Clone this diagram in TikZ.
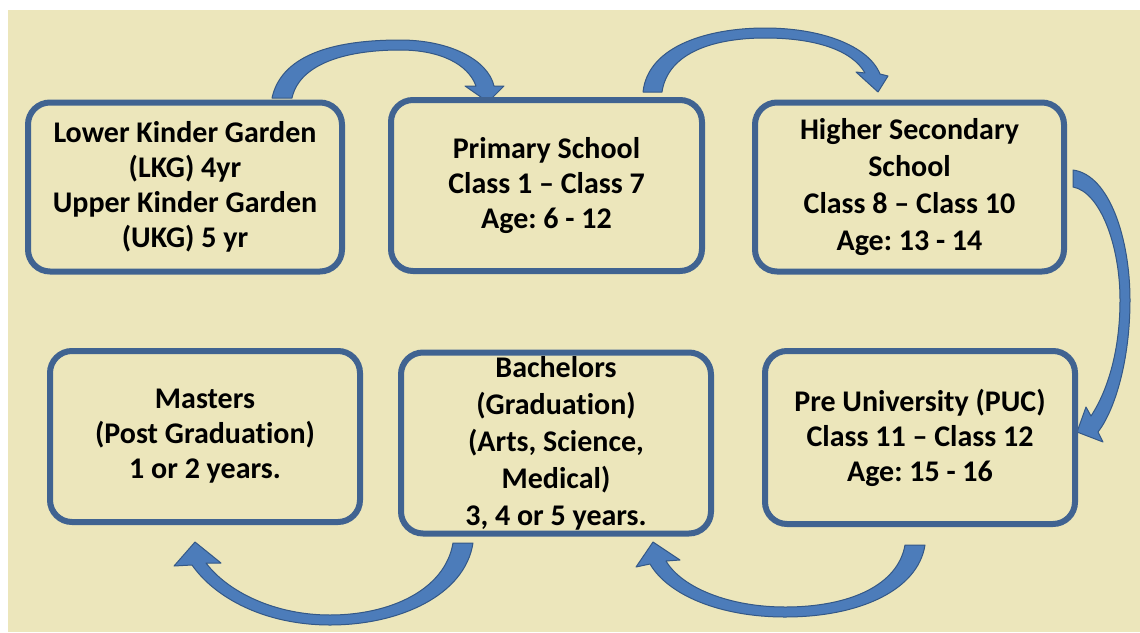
\documentclass[tikz,border=0pt]{standalone}
\usepackage{fontspec}
\setmainfont{Carlito}[Ligatures={TeX,NoCommon}]
\frenchspacing
\definecolor{paper}{RGB}{236,230,187}
\definecolor{frame}{RGB}{64,99,145}
\definecolor{arrowfill}{RGB}{76,124,186}
\definecolor{arrowedge}{RGB}{52,88,135}
\begin{document}
\begin{tikzpicture}[x=1pt,y=-1pt,
  stage/.style={draw=frame, line width=6pt, rounded corners=22pt,
    inner sep=0pt, outer sep=0pt, align=center,
    font=\fontsize{30}{35}\selectfont\bfseries, text=black},
  blockarrow/.style={fill=arrowfill, draw=arrowedge, line width=1pt, line join=round}]
\useasboundingbox (0,0) rectangle (1140,632);
\fill[white] (0,0) rectangle (1140,632);
\fill[paper] (8,10) rectangle (1140,632);

% curved block arrows between the stages
% LKG/UKG -> Primary
\draw[blockarrow] (272,98) .. controls (282,52) and (340,40) .. (400,40)
  .. controls (450,40) and (488,60) .. (494,86) -- (504,86) -- (488,102) -- (465,86) -- (476,86)
  .. controls (468,64) and (440,50) .. (400,50)
  .. controls (350,50) and (300,62) .. (292,98) -- cycle;
% Primary -> Higher Secondary
\draw[blockarrow] (643,92) .. controls (648,45) and (710,28) .. (765,28)
  .. controls (820,28) and (868,45) .. (880,74) -- (888,76) -- (878,92) -- (856,72) -- (865,73)
  .. controls (852,50) and (815,38) .. (765,38)
  .. controls (715,38) and (668,52) .. (662,92) -- cycle;
% Higher Secondary -> PUC
\draw[blockarrow] (1073,170) .. controls (1110,175) and (1130,240) .. (1130,300)
  .. controls (1130,360) and (1115,410) .. (1098,432) -- (1103,442) -- (1077,432) -- (1086,407) -- (1091,416)
  .. controls (1108,390) and (1120,350) .. (1120,300)
  .. controls (1120,245) and (1100,192) .. (1073,187) -- cycle;
% PUC -> Bachelors
\draw[blockarrow] (925,545) .. controls (918,590) and (860,617) .. (785,617)
  .. controls (720,617) and (668,595) .. (650,564) -- (636,567) -- (653,542) -- (680,560) -- (666,561)
  .. controls (682,588) and (730,607) .. (785,607)
  .. controls (850,607) and (898,585) .. (905,545) -- cycle;
% Bachelors -> Masters
\draw[blockarrow] (473,543) .. controls (465,595) and (400,625) .. (330,625)
  .. controls (265,625) and (215,598) .. (192,565) -- (174,566) -- (195,542) -- (221,563) -- (206,563)
  .. controls (228,592) and (275,615) .. (330,615)
  .. controls (390,615) and (445,590) .. (453,543) -- cycle;

% stages
\node[stage, minimum width=314pt, minimum height=169pt] (kg) at (185,187)
  {Lower Kinder Garden\\(LKG) 4yr\\Upper Kinder Garden\\(UKG) 5 yr};
\node[stage, minimum width=311pt, minimum height=171pt] (primary) at (546.5,185.5)
  {Primary School\\Class 1 -- Class 7\\Age: 6 - 12};
\node[stage, minimum width=309pt, minimum height=169pt,
  font=\fontsize{30}{37}\selectfont\bfseries] (higher) at (909.5,187)
  {Higher Secondary\\School\\Class 8 -- Class 10\\Age: 13 - 14};
\node[stage, minimum width=310pt, minimum height=171pt] (masters) at (205,436.5)
  {Masters\\(Post Graduation)\\1 or 2 years.};
\node[stage, minimum width=310pt, minimum height=181pt,
  font=\fontsize{30}{37}\selectfont\bfseries] (bachelors) at (556,443)
  {Bachelors\\(Graduation)\\(Arts, Science,\\Medical)\\3, 4 or 5 years.};
\node[stage, minimum width=310pt, minimum height=173pt] (puc) at (920,437.5)
  {Pre University (PUC)\\Class 11 -- Class 12\\Age: 15 - 16};
\end{tikzpicture}
\end{document}
